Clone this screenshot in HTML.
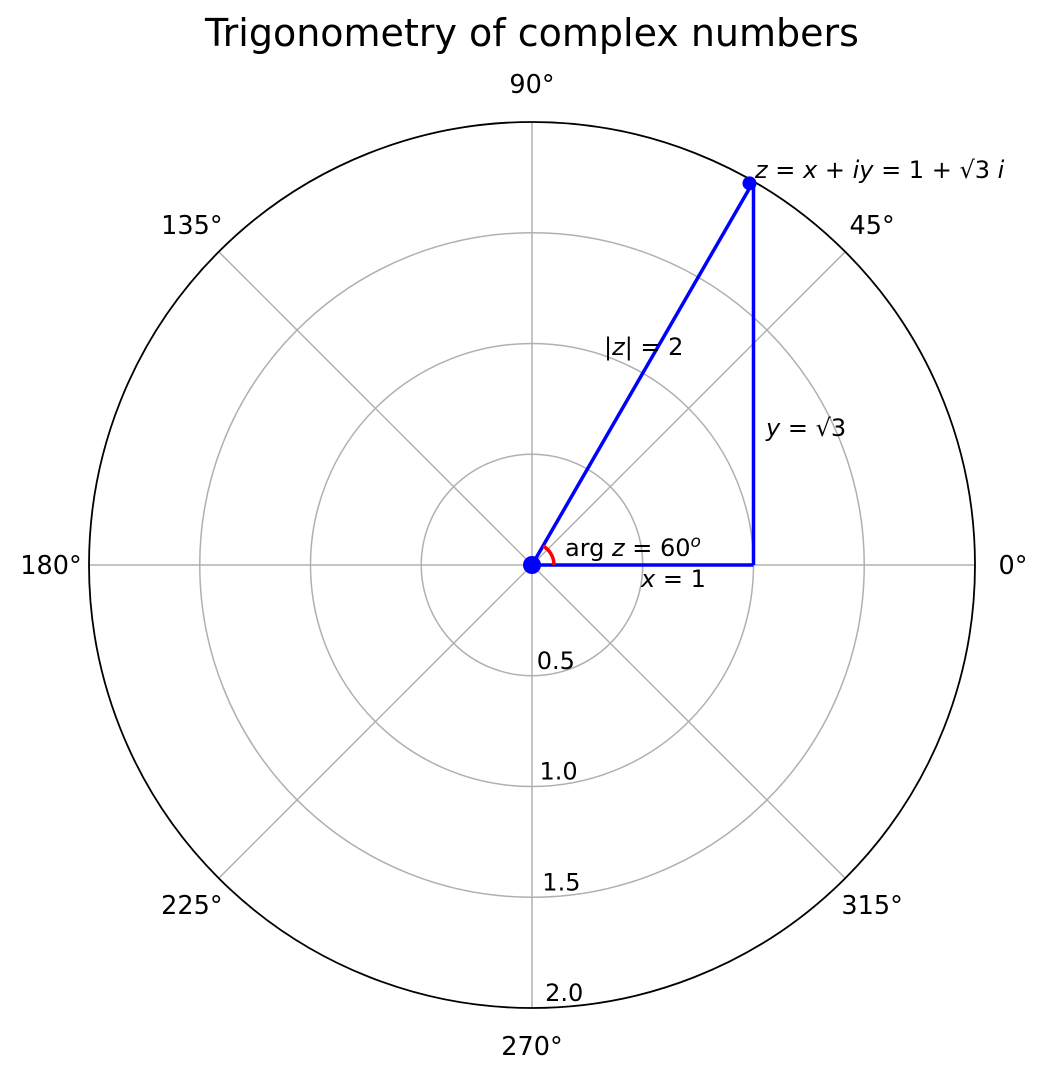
<!DOCTYPE html>
<html><head><meta charset="utf-8"><style>
body{margin:0;background:#fff}
svg text{font-family:"DejaVu Sans","Liberation Sans",sans-serif;fill:#000}
.it{font-style:italic}
</style></head><body>
<svg id="chart" width="1047" height="1078" viewBox="0 0 1047 1078" style="position:absolute;left:0;top:0">
<text x="532" y="46" font-size="38" text-anchor="middle">Trigonometry of complex numbers</text>
<g id="grid"></g>
<g id="marks"></g>
<text x="755" y="178" font-size="24"><tspan class="it">z</tspan> = <tspan class="it">x</tspan> + <tspan class="it">iy</tspan> = 1 + √3 <tspan class="it">i</tspan></text>
<text x="604" y="355" font-size="24">|<tspan class="it">z</tspan>| = 2</text>
<text x="766" y="436" font-size="24"><tspan class="it">y</tspan> = √3</text>
<text x="565" y="556" font-size="24">arg <tspan class="it">z</tspan> = 60<tspan class="it" font-size="17" dy="-9">o</tspan></text>
<text x="641" y="587" font-size="24"><tspan class="it">x</tspan> = 1</text>
</svg>
<script>
const rTicks=[0.5,1.0,1.5,2.0];
const thetaTicks=[0,45,90,135,180,225,270,315];
const zMod=[2];
const zArgDeg=[60];
const rMax=2.0;
const cx=532,cy=565,R=443;
const NS='http://www.w3.org/2000/svg';
function rs(r){return r/rMax*R;}
function px(r,deg){return cx+rs(r)*Math.cos(deg*Math.PI/180);}
function py(r,deg){return cy-rs(r)*Math.sin(deg*Math.PI/180);}
function mk(tag,attrs,parent,txt){const e=document.createElementNS(NS,tag);for(const k in attrs)e.setAttribute(k,attrs[k]);if(txt!==undefined)e.textContent=txt;parent.appendChild(e);return e;}
const grid=document.getElementById('grid'),marks=document.getElementById('marks');
rTicks.forEach(r=>{
 if(r<rMax){const c=mk('circle',{cx:cx,cy:cy,r:rs(r),fill:'none',stroke:'#b0b0b0','stroke-width':1.5},grid);
 
 }
});
thetaTicks.forEach(t=>{
 const l=mk('line',{x1:cx,y1:cy,x2:px(rMax,t),y2:py(rMax,t),stroke:'#b0b0b0','stroke-width':1.5},grid);
 
 
 const LR=481;
 const lx=cx+LR*Math.cos(t*Math.PI/180),ly=cy-LR*Math.sin(t*Math.PI/180);
 const tx=mk('text',{x:lx,y:ly+9,'font-size':25.5,'text-anchor':'middle'},grid,t+'°');
 
 
});
const outer=mk('circle',{cx:cx,cy:cy,r:R,fill:'none',stroke:'#000','stroke-width':1.8},grid);


rTicks.forEach(r=>{
 const tx=mk('text',{x:cx+2+rs(r)*0.025,y:cy+rs(r)-7,'font-size':24,'text-anchor':'start'},grid,r.toFixed(1));
 
 
});
const m=zMod[0],a=zArgDeg[0];
const zx=px(m,a),zy=py(m,a),bx=px(m*Math.cos(a*Math.PI/180),0);
const modLine=mk('line',{x1:cx,y1:cy,x2:zx,y2:zy,stroke:'#0000ff','stroke-width':3.5},marks);


const xLine=mk('line',{x1:cx,y1:cy,x2:bx,y2:cy,stroke:'#0000ff','stroke-width':3.5},marks);


const yLine=mk('line',{x1:bx,y1:cy,x2:bx,y2:zy,stroke:'#0000ff','stroke-width':3.5},marks);


const ar=22;
const arc=mk('path',{d:`M${cx+ar} ${cy} A${ar} ${ar} 0 0 0 ${cx+ar*Math.cos(a*Math.PI/180)} ${cy-ar*Math.sin(a*Math.PI/180)}`,fill:'none',stroke:'#ff0000','stroke-width':3.5},marks);


const dot=mk('circle',{cx:cx,cy:cy,r:9,fill:'#0000ff'},marks);


const tipDot=mk('circle',{cx:zx-4,cy:zy+2,r:7,fill:'#0000ff'},marks);


</script>
</body></html>
